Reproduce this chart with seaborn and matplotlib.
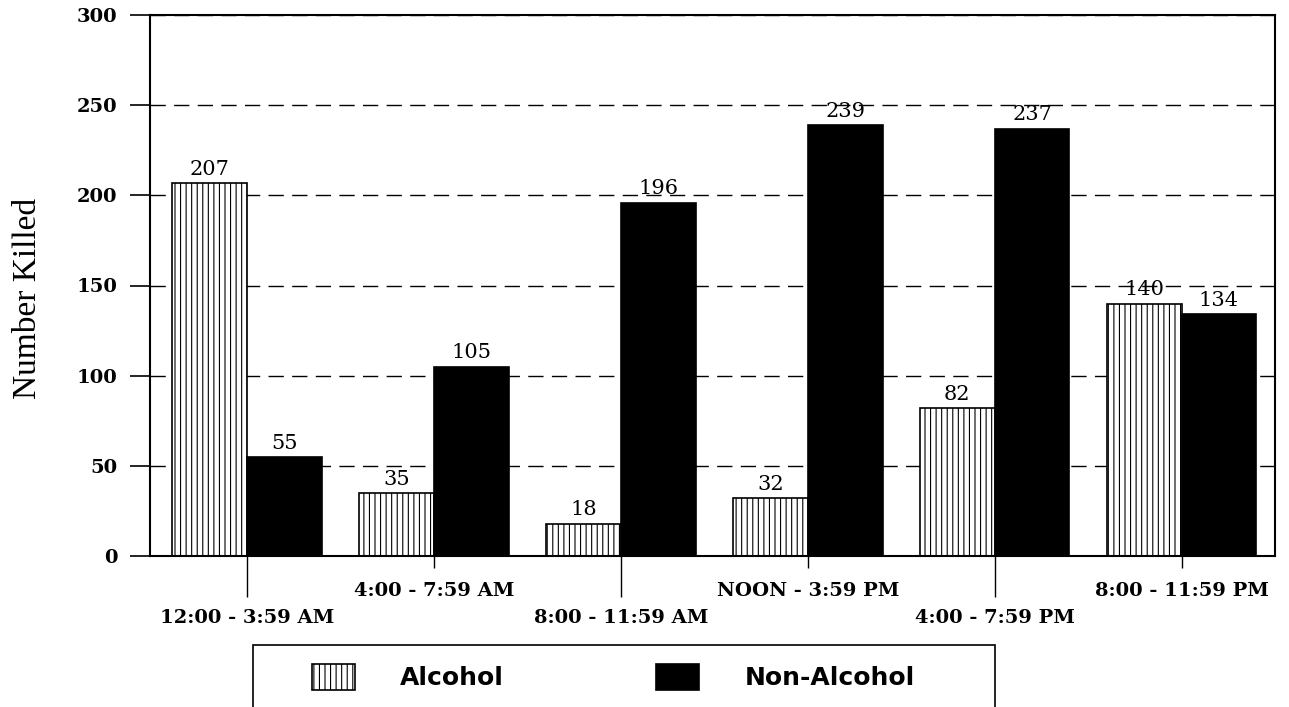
import matplotlib
matplotlib.use("Agg")
import matplotlib.pyplot as plt
import pandas as pd
import seaborn as sns
from matplotlib.patches import Rectangle

# ---- data ----
periods = ["12:00 - 3:59 AM", "4:00 - 7:59 AM", "8:00 - 11:59 AM",
           "NOON - 3:59 PM", "4:00 - 7:59 PM", "8:00 - 11:59 PM"]
types = ["Alcohol", "Non-Alcohol"]
alcohol = [207, 35, 18, 32, 82, 140]
non_alcohol = [55, 105, 196, 239, 237, 134]
y_ticks = [0, 50, 100, 150, 200, 250, 300]
y_label = "Number Killed"

df = pd.DataFrame({
    "period": periods * 2,
    "type": [types[0]] * len(periods) + [types[1]] * len(periods),
    "killed": alcohol + non_alcohol,
})

sns.set_style("ticks")
plt.rcParams["font.family"] = ["DejaVu Serif"]
plt.rcParams["hatch.linewidth"] = 0.8
plt.rcParams["hatch.color"] = "black"
plt.rcParams["text.color"] = "black"
plt.rcParams["axes.labelcolor"] = "black"
plt.rcParams["xtick.color"] = "black"
plt.rcParams["ytick.color"] = "black"

W, H = 1289, 707
fig = plt.figure(figsize=(W / 100, H / 100), dpi=100)
ax = fig.add_axes([150 / W, 1 - 556 / H, 1125 / W, 541 / H])

sns.barplot(data=df, x="period", y="killed", hue="type", order=periods,
            hue_order=types, palette={"Alcohol": "white", "Non-Alcohol": "black"},
            edgecolor="black", linewidth=1.2, width=0.8, gap=0, saturation=1,
            legend=False, ax=ax)

for p in ax.containers[0]:
    p.set_hatch("|||")

for c in ax.containers:
    ax.bar_label(c, fmt="%d", padding=3, fontsize=15, color="black",
                 family="DejaVu Serif")

ax.set_xlim(-0.52, 5.5)
ax.set_ylim(0, 300)
ax.set_yticks(y_ticks)
ax.set_xlabel("")
ax.set_ylabel(y_label, family="Liberation Serif", fontsize=24, color="black")
ax.yaxis.set_label_coords(-0.095, 0.477)

even = [0, 2, 4]
odd = [1, 3, 5]
ax.set_xticks(even, [periods[i] for i in even])
ax.set_xticks(odd, [periods[i] for i in odd], minor=True)
ax.tick_params(axis="x", which="major", length=29.5, width=1, pad=9,
               labelsize=14, colors="black")
ax.tick_params(axis="x", which="minor", length=8.6, width=1, pad=10,
               labelsize=14, colors="black")
ax.tick_params(axis="y", length=14.4, width=1.2, pad=9, labelsize=14,
               colors="black")
for t in ax.get_xticklabels(which="both") + ax.get_yticklabels():
    t.set_fontweight("bold")

ax.yaxis.grid(True, color="black", linestyle=(0, (11, 6)), linewidth=1)
ax.set_axisbelow(True)
for s in ax.spines.values():
    s.set_visible(True)
    s.set_color("black")
    s.set_linewidth(1.5)

# legend
fig.legend(handles=list(ax.containers), labels=types, loc="center left",
           bbox_to_anchor=(312 / W, 1 - 677 / H), ncol=2, frameon=False,
           prop={"family": "DejaVu Sans", "weight": "bold", "size": 18},
           labelcolor="black",
           handlelength=1.72, handleheight=1.28, handletextpad=1.8,
           columnspacing=6.1, borderpad=0, borderaxespad=0)
fig.add_artist(Rectangle((253 / W, -0.01), (995 - 253) / W, 0.01 + 62 / H,
                         transform=fig.transFigure, fill=False,
                         edgecolor="black", linewidth=1.2))

fig.savefig("out.png", dpi=100)
